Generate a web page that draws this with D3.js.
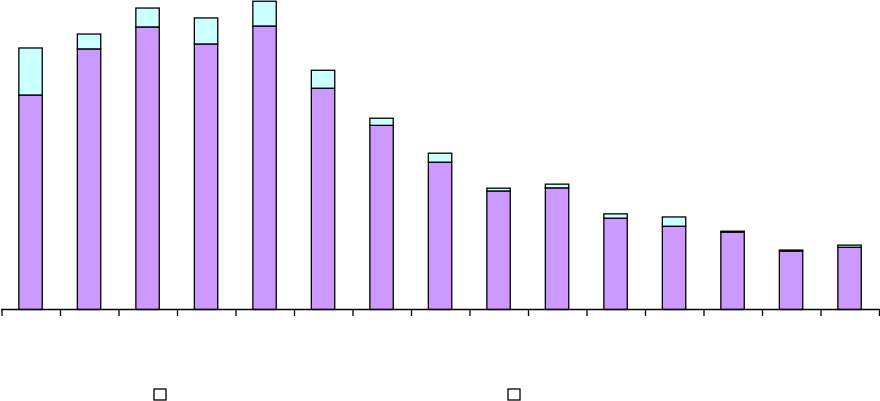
<!DOCTYPE html>
<html><head><meta charset="utf-8">
<script src="https://cdn.jsdelivr.net/npm/d3@7"></script>
<style>body{margin:0;background:#fff}svg{display:block}</style>
</head><body>
<script>
const categories = ["1","2","3","4","5","6","7","8","9","10","11","12","13","14","15"];
const seriesBottom = [69.3,84.2,91.3,85.8,91.6,71.5,59.5,47.6,38.3,39.3,29.5,26.9,25.0,18.9,20.1];
const seriesTop = [15.2,4.8,6.1,8.4,8.0,5.8,2.3,2.9,0.9,1.2,1.4,3.0,0.3,0.3,0.7];
const legendLabels = ["", ""];

const W = 880, H = 401;
const svg = d3.select("body").append("svg").attr("width", W).attr("height", H);
const base = 309.5;
const x = d3.scaleBand().domain(categories).range([2, 879.5]).padding(0);
const y = d3.scaleLinear().domain([0, 100]).range([base, 0]);
const bw = x.bandwidth() * 0.4;
const colors = ["#CC99FF", "#CCFFFF"];

const data = categories.map((c, i) => ({c, b: seriesBottom[i], t: seriesTop[i]}));

const g = svg.append("g");
// bottom series
g.selectAll("rect.bot").data(data).enter().append("rect")
  .attr("x", d => x(d.c) + x.bandwidth()/2 - bw/2 - 0.7)
  .attr("width", bw)
  .attr("y", d => y(d.b))
  .attr("height", d => y(0) - y(d.b))
  .attr("fill", colors[0]).attr("stroke", "#000").attr("stroke-width", 1.3);
// top series
g.selectAll("rect.top").data(data).enter().append("rect")
  .attr("x", d => x(d.c) + x.bandwidth()/2 - bw/2 - 0.7)
  .attr("width", bw)
  .attr("y", d => y(d.b + d.t))
  .attr("height", d => y(d.b) - y(d.b + d.t))
  .attr("fill", colors[1]).attr("stroke", "#000").attr("stroke-width", 1.3);

// x axis
const ax = svg.append("g");
ax.append("line").attr("x1", 1).attr("x2", 880).attr("y1", base).attr("y2", base)
  .attr("stroke", "#000").attr("stroke-width", 1.3);
const tickPos = categories.map(c => x(c)).concat([x.range()[1]]);
ax.selectAll("line.tick").data(tickPos).enter().append("line")
  .attr("x1", d => d).attr("x2", d => d).attr("y1", base).attr("y2", base + 6.5)
  .attr("stroke", "#000").attr("stroke-width", 1.3);

// legend
const legX = [154, 508];
const leg = svg.selectAll("g.leg").data(legendLabels).enter().append("g")
  .attr("transform", (d, i) => `translate(${legX[i]},389)`);
leg.append("rect").attr("width", 12).attr("height", 11)
  .attr("fill", "#fff").attr("stroke", "#000").attr("stroke-width", 1.3);
leg.append("text").attr("x", 18).attr("y", 10).attr("font-family", "Liberation Sans, Arial")
  .attr("font-size", 12).text(d => d);
</script>
</body></html>
